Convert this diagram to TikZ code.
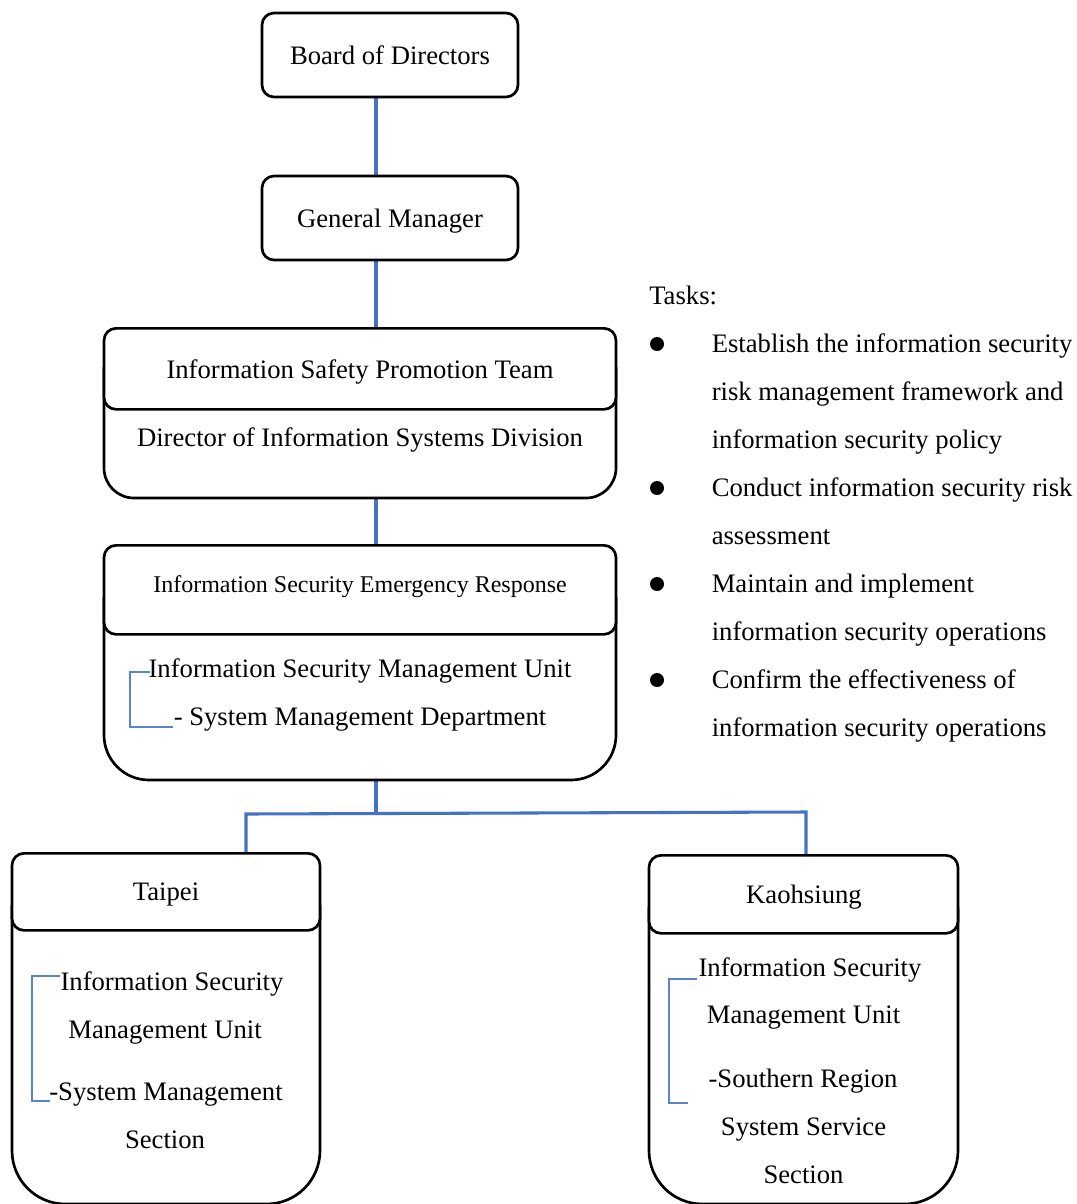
\documentclass[tikz,border=0pt]{standalone}
\usepackage{fontspec}
\setmainfont{Liberation Serif}
\usetikzlibrary{calc,backgrounds}
\definecolor{linkblue}{HTML}{4472C4}
\definecolor{brackblue}{HTML}{5B84D0}

\begin{document}
\begin{tikzpicture}[x=0.75pt,y=-0.75pt,
  boxline/.style={draw=black,line width=2pt},
  headbox/.style={boxline,fill=white,rectangle,rounded corners=9pt,inner sep=0pt},
  outline/.style={rectangle,draw=none,inner sep=0pt,outer sep=0pt},
  conn/.style={draw=linkblue,line width=2.3pt},
  bracket/.style={draw=brackblue,line width=0.9pt},
  txt/.style={anchor=base,inner sep=0pt,font=\fontsize{20pt}{24pt}\selectfont},
  smalltxt/.style={txt,font=\fontsize{18pt}{22pt}\selectfont},
  lefttxt/.style={txt,anchor=base west},
  dot/.style={circle,fill=black,draw=none,inner sep=0pt,minimum size=10.5pt},
]
\useasboundingbox (0,0) rectangle (1077,1204);

% vertical spine of the chart
\coordinate (spine) at (376,0);

% ---- top boxes
\node[headbox,minimum width=192pt,minimum height=63pt] (bod) at (390,55) {};
\node[txt] (bodtxt) at (390,64) {Board of Directors};

\node[headbox,minimum width=192pt,minimum height=63pt] (gm) at (390,218) {};
\node[txt] (gmtxt) at (390,227) {General Manager};

% ---- Information Safety Promotion Team
\node[outline,minimum width=384pt,minimum height=128.25pt] (ispt) at (360,412.5) {};
\draw[boxline,rounded corners=22.5pt] ([yshift=-30pt]ispt.north west) -- (ispt.south west)
  -- (ispt.south east) -- ([yshift=-30pt]ispt.north east);
\node[headbox,minimum width=384pt,minimum height=60.75pt,anchor=north] (isptHead) at (ispt.north) {};
\node[txt] (isptTitle) at (360,378) {Information Safety Promotion Team};
\node[txt] (isptBody) at (360,446) {Director of Information Systems Division};

% ---- Information Security Emergency Response
\node[outline,minimum width=384pt,minimum height=177pt] (er) at (360,662) {};
\draw[boxline,rounded corners=33.75pt] ([yshift=-40pt]er.north west) -- (er.south west)
  -- (er.south east) -- ([yshift=-40pt]er.north east);
\node[headbox,minimum width=384pt,minimum height=66.75pt,anchor=north] (erHead) at (er.north) {};
\node[smalltxt] (erTitle) at (360,592) {Information Security Emergency Response};
\node[txt] (erLineA) at (360,677) {Information Security Management Unit};
\node[txt] (erLineB) at (360,725) {- System Management Department};
\draw[bracket] (150,672) -- (130,672) -- (130,727) -- (173,727);

% ---- Taipei
\node[outline,minimum width=231pt,minimum height=264pt] (tp) at (166,1028) {};
\draw[boxline,rounded corners=40pt] ([yshift=-40pt]tp.north west) -- (tp.south west)
  -- (tp.south east) -- ([yshift=-40pt]tp.north east);
\node[headbox,minimum width=231pt,minimum height=57.75pt,anchor=north] (tpHead) at (tp.north) {};
\node[txt] (tpTitle) at (166,900) {Taipei};
\node[txt] (tpLineA) at (172,990) {Information Security};
\node[txt] (tpLineB) at (165,1038) {Management Unit};
\node[txt] (tpLineC) at (166,1100) {-System Management};
\node[txt] (tpLineD) at (165,1148) {Section};
\draw[bracket] (60,976) -- (32,976) -- (32,1101) -- (50,1101);

% ---- Kaohsiung
\node[outline,minimum width=231.75pt,minimum height=262.5pt] (ks) at (803.5,1029) {};
\draw[boxline,rounded corners=40pt] ([yshift=-40pt]ks.north west) -- (ks.south west)
  -- (ks.south east) -- ([yshift=-40pt]ks.north east);
\node[headbox,minimum width=231.75pt,minimum height=58.5pt,anchor=north] (ksHead) at (ks.north) {};
\node[txt] (ksTitle) at (804,903) {Kaohsiung};
\node[txt] (ksLineA) at (810,976) {Information Security};
\node[txt] (ksLineB) at (803.5,1023) {Management Unit};
\node[txt] (ksLineC) at (803,1087) {-Southern Region};
\node[txt] (ksLineD) at (803.5,1135) {System Service};
\node[txt] (ksLineE) at (803.5,1183) {Section};
\draw[bracket] (697,979) -- (669,979) -- (669,1103) -- (688,1103);

% ---- connectors
\coordinate (fork) at (376,813);
\coordinate (tpJoin) at (246,814);
\coordinate (ksJoin) at (806,812);
\begin{scope}[on background layer]
  \fill[white] (0,0) rectangle (1077,1204);
  \draw[conn] (bod.south -| spine) -- (gm.north -| spine);
  \draw[conn] (gm.south -| spine) -- (isptHead.north -| spine);
  \draw[conn] (ispt.south -| spine) -- (erHead.north -| spine);
  \draw[conn] (er.south -| spine) -- (fork);
  \draw[conn] (tpHead.north -| tpJoin) -- (tpJoin) -- (ksJoin) -- (ksHead.north -| ksJoin);
\end{scope}

% ---- task list
\node[lefttxt] (tasks) at (649,304) {Tasks:};
\node[dot] (dotA) at (657,344) {};
\node[lefttxt] (taskA1) at (711.5,352) {Establish the information security};
\node[lefttxt] (taskA2) at (711.5,400) {risk management framework and};
\node[lefttxt] (taskA3) at (711.5,448) {information security policy};
\node[dot] (dotB) at (657,488) {};
\node[lefttxt] (taskB1) at (711.5,496) {Conduct information security risk};
\node[lefttxt] (taskB2) at (711.5,544) {assessment};
\node[dot] (dotC) at (657,584) {};
\node[lefttxt] (taskC1) at (711.5,592) {Maintain and implement};
\node[lefttxt] (taskC2) at (711.5,640) {information security operations};
\node[dot] (dotD) at (657,680) {};
\node[lefttxt] (taskD1) at (711.5,688) {Confirm the effectiveness of};
\node[lefttxt] (taskD2) at (711.5,736) {information security operations};
\end{tikzpicture}
\end{document}
